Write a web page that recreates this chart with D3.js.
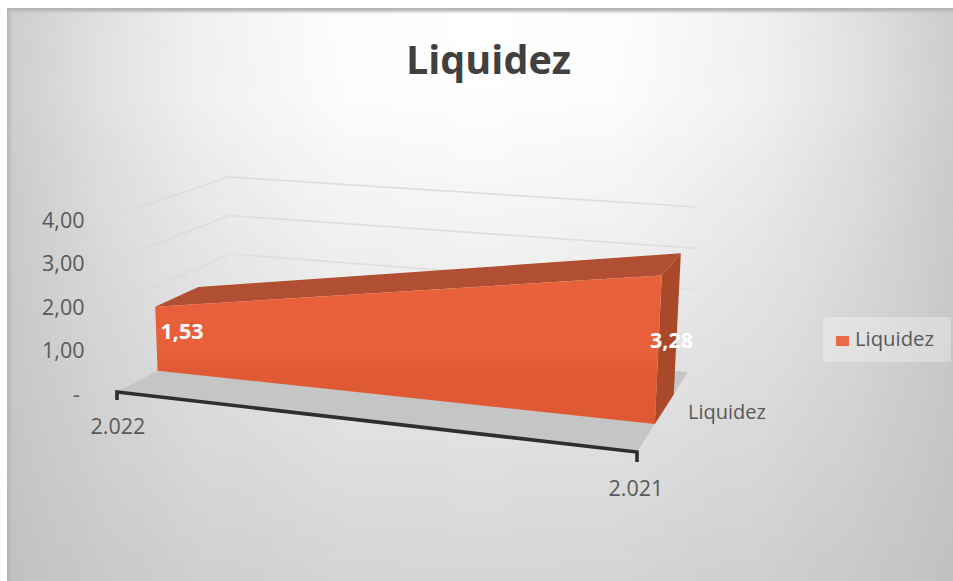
<!DOCTYPE html>
<html><head><meta charset="utf-8">
<style>html,body{margin:0;padding:0;background:#fff}svg{display:block}text{font-family:"Open Sans","Noto Sans",sans-serif}</style>
<script src="https://cdn.jsdelivr.net/npm/d3@7"></script></head>
<body><script>
const categories = ["2.022", "2.021"];
const seriesName = "Liquidez";
const values = [1.53, 3.28];
const valueLabels = ["1,53", "3,28"];
const valueTicks = [0, 1, 2, 3, 4];
const valueTickLabels = ["-", "1,00", "2,00", "3,00", "4,00"];
const gridValues = [2, 3, 4];
const chartTitle = "Liquidez";

const W = 953, H = 581;
const svg = d3.select("body").append("svg").attr("width", W).attr("height", H);
const defs = svg.append("defs");

// background: vertical wash plus darkening toward the side edges
const bgV = defs.append("linearGradient").attr("id","bgV").attr("x1",0).attr("y1",0).attr("x2",0).attr("y2",1);
[[0,"#ffffff"],[.16,"#fefefe"],[1,"#d5d5d5"]].forEach(([o,c])=>bgV.append("stop").attr("offset",o).attr("stop-color",c));
const bgH = defs.append("linearGradient").attr("id","bgH").attr("x1",0).attr("y1",0).attr("x2",1).attr("y2",0);
[[0,.2],[.1,.12],[.2,.06],[.35,.01],[.5,0],[.65,.01],[.8,.06],[.9,.12],[1,.2]].forEach(([o,a])=>bgH.append("stop").attr("offset",o).attr("stop-color","#000").attr("stop-opacity",a));
const mg = defs.append("linearGradient").attr("id","mg").attr("x1",0).attr("y1",0).attr("x2",0).attr("y2",1);
[[0,"#fff"],[.3,"#e8e8e8"],[1,"#777"]].forEach(([o,c])=>mg.append("stop").attr("offset",o).attr("stop-color",c));
defs.append("mask").attr("id","mk").attr("maskUnits","userSpaceOnUse").attr("x",0).attr("y",0).attr("width",W).attr("height",H)
  .append("rect").attr("width",W).attr("height",H).attr("fill","url(#mg)");
const topB = defs.append("linearGradient").attr("id","topB").attr("x1",0).attr("y1",0).attr("x2",0).attr("y2",1);
[[0,"#b4b4b4",1],[.35,"#b8b8b8",1],[1,"#cccccc",0]].forEach(([o,c,a])=>topB.append("stop").attr("offset",o).attr("stop-color",c).attr("stop-opacity",a));
const leftB = defs.append("linearGradient").attr("id","leftB").attr("x1",0).attr("y1",0).attr("x2",1).attr("y2",0);
[[0,"#b0b0b0",.9],[1,"#bbbbbb",0]].forEach(([o,c,a])=>leftB.append("stop").attr("offset",o).attr("stop-color",c).attr("stop-opacity",a));

const face = defs.append("linearGradient").attr("id","face").attr("x1",0).attr("y1",0).attr("x2",0).attr("y2",1);
[[0,"#e9623b"],[.5,"#e7603a"],[.64,"#e05a34"],[1,"#de5933"]].forEach(([o,c])=>face.append("stop").attr("offset",o).attr("stop-color",c));
const fade = defs.append("linearGradient").attr("id","fade").attr("gradientUnits","userSpaceOnUse")
  .attr("x1",105).attr("y1",0).attr("x2",228).attr("y2",0);
fade.append("stop").attr("offset",0).attr("stop-color","#d8d8d8").attr("stop-opacity",.1);
fade.append("stop").attr("offset",.35).attr("stop-color","#d8d8d8").attr("stop-opacity",.8);
fade.append("stop").attr("offset",1).attr("stop-color","#dedede").attr("stop-opacity",1);
const soft = defs.append("filter").attr("id","soft").attr("x","-5%").attr("y","-5%").attr("width","110%").attr("height","110%");
soft.append("feGaussianBlur").attr("stdDeviation",0.6);

svg.append("rect").attr("x",7).attr("y",8).attr("width",W-7).attr("height",H-8).attr("fill","url(#bgV)");
svg.append("rect").attr("x",7).attr("y",8).attr("width",W-7).attr("height",H-8).attr("fill","url(#bgH)").attr("mask","url(#mk)");
svg.append("rect").attr("x",7).attr("y",8).attr("width",W-7).attr("height",6).attr("fill","url(#topB)");
svg.append("rect").attr("x",7).attr("y",8).attr("width",6).attr("height",H-8).attr("fill","url(#leftB)");

// oblique projection through linear scales
const tScale = d3.scalePoint().domain(categories).range([0,1]);
const vScale = d3.scaleLinear().domain([0,4]).range([0,1]);
const edge = (a,b) => d3.scaleLinear().domain([0,1]).range([a,b]);
const base = { fx: edge(117,637), fy: edge(392,452), bx: edge(233,688), by: edge(331,372) };
const top4 = { fx: edge(110,645), fy: edge(218,262), bx: edge(228,697), by: edge(177,207) };
function plane(p,t,d){
  return [edge(p.fx(t),p.bx(t))(d), edge(p.fy(t),p.by(t))(d)];
}
function P(t,d,v){
  const a = plane(base,t,d), b = plane(top4,t,d), k = vScale(v);
  return [edge(a[0],b[0])(k), edge(a[1],b[1])(k)];
}
const line = d3.line();
const poly = pts => line(pts) + "Z";
const chart = svg.append("g").attr("filter","url(#soft)");

// gridlines on the side and back walls
const gl = chart.append("g").attr("fill","none").attr("stroke-width",1.7);
gl.selectAll(".side").data(gridValues).join("path").attr("class","side")
  .attr("stroke","url(#fade)").attr("d",v=>line([P(0,0,v),P(0,1,v)]));
gl.selectAll(".back").data(gridValues).join("path").attr("class","back")
  .attr("stroke","#dedede").attr("d",v=>line([P(0,1,v),P(1,1,v)]));

// floor
chart.append("path").attr("fill","#c5c5c5").attr("d",poly([P(0,0,0),P(1,0,0),P(1,1,0),P(0,1,0)]));

// area solid
const df = 0.35, db = 0.72;
const t0 = tScale(categories[0]), t1 = tScale(categories[1]);
const top0 = values[0], top1 = values[1];
chart.append("path").attr("fill","#b04f31").attr("d",poly([P(t0,df,top0),P(t1,df,top1),P(t1,db,top1),P(t0,db,top0)]));
chart.append("path").attr("fill","#aa4a2c").attr("d",poly([P(t1,df,0),P(t1,df,top1),P(t1,db,top1),P(t1,db,0)]));
chart.append("path").attr("fill","url(#face)").attr("d",poly([P(t0,df,0),P(t0,df,top0),P(t1,df,top1),P(t1,df,0)]));

// category axis
const axisPts = [[P(0,0,0)[0],P(0,0,0)[1]+8],P(0,0,0),P(1,0,0),[P(1,0,0)[0],P(1,0,0)[1]+10]];
chart.append("path").attr("fill","none").attr("stroke","#2e2e2e").attr("stroke-width",3.6).attr("d",line(axisPts));

// value tick labels
const axisY = d3.scaleLinear().domain(d3.extent(valueTicks)).range([394,220]);
const txt = "#595959";
svg.selectAll(".vt").data(valueTicks).join("text").attr("class","vt")
  .attr("x",v=>v===0?80:84.5).attr("y",v=>axisY(v)).attr("dy",".36em").attr("text-anchor","end")
  .attr("font-size",21.5).attr("fill",txt).text((v,i)=>valueTickLabels[i]);

// category labels
const catX = d3.scaleOrdinal().domain(categories).range([118,636]);
const catY = d3.scaleOrdinal().domain(categories).range([426,488]);
svg.selectAll(".ct").data(categories).join("text").attr("class","ct")
  .attr("x",c=>catX(c)).attr("y",c=>catY(c)).attr("dy",".36em").attr("text-anchor","middle")
  .attr("font-size",21.5).attr("fill",txt).text(c=>c);
svg.append("text").attr("x",727).attr("y",412).attr("dy",".36em").attr("text-anchor","middle")
  .attr("font-size",20).attr("fill",txt).text(seriesName);

// data labels
const lblX = d3.scaleOrdinal().domain(categories).range([182,671.5]);
const lblY = d3.scaleOrdinal().domain(categories).range([331,340]);
svg.selectAll(".dl").data(categories).join("text").attr("class","dl")
  .attr("x",c=>lblX(c)).attr("y",c=>lblY(c)).attr("dy",".36em").attr("text-anchor","middle")
  .attr("font-size",21.5).attr("font-weight",700).attr("fill","#fff").text((c,i)=>valueLabels[i]);

// title
svg.append("text").attr("x",488.5).attr("y",60).attr("dy",".36em").attr("text-anchor","middle")
  .attr("font-size",39.5).attr("font-weight",700).attr("fill","#404040").text(chartTitle);

// legend
const lg = svg.append("g");
lg.append("rect").attr("x",823).attr("y",317).attr("width",128).attr("height",45).attr("fill","#fff").attr("fill-opacity",.3);
lg.append("rect").attr("x",836).attr("y",336).attr("width",13).attr("height",10).attr("fill","#e96a45");
lg.append("text").attr("x",855).attr("y",339).attr("dy",".36em").attr("font-size",20.3).attr("fill",txt).text(seriesName);
</script></body></html>
